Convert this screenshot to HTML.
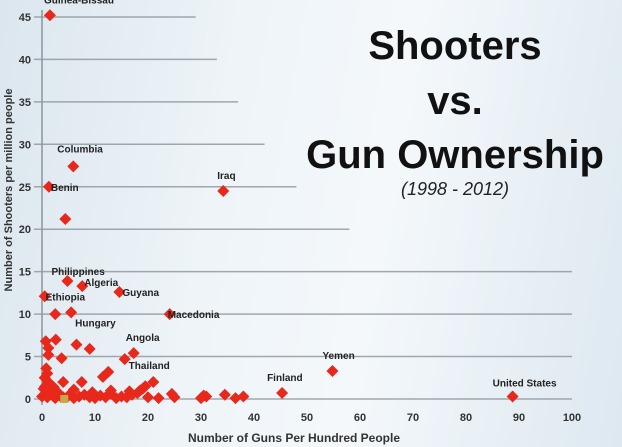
<!DOCTYPE html>
<html><head><meta charset="utf-8"><style>
body{margin:0;width:622px;height:447px;overflow:hidden;font-family:"Liberation Sans",sans-serif;}
#bg{position:absolute;left:0;top:0;width:622px;height:447px;background:linear-gradient(100deg,#dbe6ee 0%,#eef4f8 35%,#f4f8fb 60%,#dde8f0 100%);}
.t{position:absolute;text-align:center;width:340px;left:285px;color:#111;}
</style></head><body>
<div id="bg"></div>
<svg id="chart" width="622" height="447" style="position:absolute;left:0;top:0"></svg>
<div class="t" style="top:24px;font-size:40px;font-weight:bold">Shooters</div>
<div class="t" style="top:79px;font-size:40px;font-weight:bold">vs.</div>
<div class="t" style="top:133px;font-size:40px;font-weight:bold">Gun Ownership</div>
<div class="t" style="top:179px;font-size:18px;font-style:italic;color:#222">(1998 - 2012)</div>
<script>
const xTicks=[0,10,20,30,40,50,60,70,80,90,100];
const yTicks=[0,5,10,15,20,25,30,35,40,45];
const gridEnds=[100,100,100,100,58,48,42,37,33,29];
const ptsX=[1.5,5.9,1.3,4.4,34.2,4.8,7.6,0.5,14.6,2.5,5.5,24.1,0.7,2.6,1.2,6.5,9,1.2,3.7,15.6,17.3,0.8,1,0.5,1.2,4,7.5,11.5,12.5,21,19.5,18.5,54.8,45.3,88.8,
0,0.5,1,1.5,2,2.5,3,3.5,4,5,6,7,8,9,10,11,12,13,14,15,16,17,18,20,22,25,30,31,34.5,36.5,38,0.3,1.2,2.8,6,9.5,13,16.5,19,24.5,30.5,0.6,2.2];
const ptsY=[45.2,27.4,25,21.2,24.5,13.9,13.3,12.1,12.6,10,10.2,10,6.8,7,6,6.4,5.9,5.2,4.8,4.7,5.4,3.6,3,2.5,2,2,2,2.6,3.2,2,1.5,1,3.3,0.7,0.3,
0.3,0.5,0.2,0.8,0.4,0.1,0.6,0.3,0.2,0.4,0.1,0.3,0.5,0.2,0.1,0.4,0.2,0.6,0.1,0.3,0.2,0.5,0.7,0.2,0.1,0.2,0.1,0.3,0.5,0.1,0.3,1.2,1.0,0.9,1.1,0.8,1.0,0.9,1.2,0.6,0.4,1.5,1.4];
const labels=["Guinea-Bissau","Columbia","Benin","Iraq","Philippines","Algeria","Ethiopia","Guyana","Hungary","Macedonia","Angola","Thailand","Yemen","Finland","United States"];
const labelX=[1.5,5.9,1.3,34.2,4.8,7.6,0.5,14.6,5.5,24.1,17.3,15.6,54.8,45.3,88.8];
const labelY=[45.2,27.4,25,24.5,13.9,13.3,12.1,12.6,10.2,10,5.4,4.7,3.3,0.7,0.3];
const labelDx=[-6,-16,2,-6,-16,2,1,3,4,-2,-8,4,-10,-15,-20];
const labelDy=[-12,-14,4,-12,-6,0,4,4,14,4,-12,10,-12,-12,-10];
const sx=v=>42+v*5.3, sy=v=>399-v*8.49;
const svg=document.getElementById('chart');const NS='http://www.w3.org/2000/svg';
function mk(t,a){const e=document.createElementNS(NS,t);for(const k in a)e.setAttribute(k,a[k]);svg.appendChild(e);return e;}
yTicks.forEach((v,i)=>{const l=mk('line',{x1:34,x2:sx(gridEnds[i]),y1:sy(v),y2:sy(v),stroke:'#8c959c','stroke-width':1.5,opacity:0.8});


const t=mk('text',{x:31,y:sy(v)+4,'text-anchor':'end','font-size':11,'font-weight':'bold',fill:'#333'});t.textContent=v;

});
const ax=mk('line',{x1:42,x2:42,y1:10,y2:405,stroke:'#8c959c','stroke-width':1.5});


xTicks.forEach(v=>{const t=mk('text',{x:sx(v),y:421,'text-anchor':'middle','font-size':11,'font-weight':'bold',fill:'#333'});t.textContent=v;

});
ptsX.forEach((x,i)=>{const cx=sx(x),cy=sy(ptsY[i]);const p=mk('polygon',{points:`${cx},${cy-6} ${cx+6},${cy} ${cx},${cy+6} ${cx-6},${cy}`,fill:'#e8281b'});

});
const hl=mk('rect',{x:sx(4.2)-4,y:sy(0)-4,width:8,height:8,fill:'#c8a84a'});


labels.forEach((s,i)=>{const t=mk('text',{x:sx(labelX[i])+labelDx[i],y:sy(labelY[i])+labelDy[i],'font-size':10,'font-weight':'bold',fill:'#222'});t.textContent=s;

});
const xt=mk('text',{x:294,y:442,'text-anchor':'middle','font-size':12,'font-weight':'bold',fill:'#333'});xt.textContent='Number of Guns Per Hundred People';


const yt=mk('text',{x:0,y:0,'text-anchor':'middle','font-size':11,'font-weight':'bold',fill:'#333',transform:'translate(12,190) rotate(-90)'});yt.textContent='Number of Shooters per million people';


</script>
</body></html>
